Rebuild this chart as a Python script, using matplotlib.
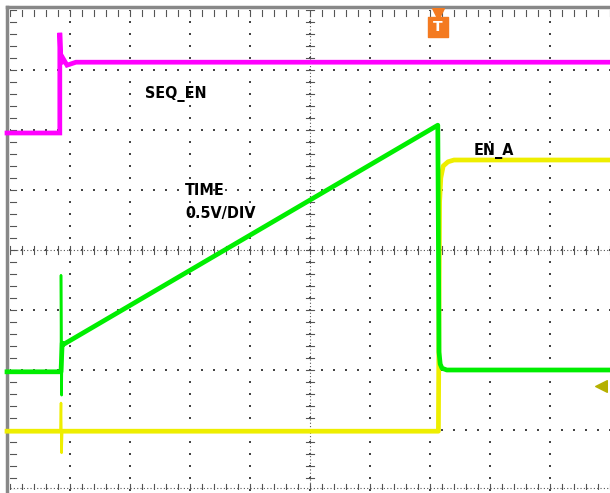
"""Scope capture: SEQ_EN / TIME ramp / EN_A."""
import matplotlib
matplotlib.use('Agg')
import matplotlib.pyplot as plt
import numpy as np

# trace keypoints, x in divisions (0..10), y in divisions (-4..4)
seq_en_t = [-0.05, 0.83, 0.83, 0.85, 0.88, 0.95, 1.1, 10.0]
seq_en_v = [1.95, 1.95, 3.62, 3.10, 3.20, 3.08, 3.13, 3.13]

time_t = [-0.05, 0.85, 0.87, 0.88, 7.13, 7.15, 7.17, 7.2, 7.28, 7.4, 10.0]
time_v = [-2.03, -2.03, -1.55, -1.58, 2.08, -1.7, -1.9, -1.97, -2.0, -2.0, -2.0]
time_spike_t = [0.85, 0.85, 0.86, 0.87]
time_spike_v = [-2.03, -0.42, -2.42, -1.55]

en_a_t = [-0.05, 7.14, 7.16, 7.18, 7.22, 7.3, 7.4, 7.55, 10.0]
en_a_v = [-3.02, -3.02, 0.8, 1.2, 1.4, 1.47, 1.5, 1.5, 1.5]
en_a_spike_t = [0.84, 0.85, 0.86, 0.87]
en_a_spike_v = [-3.02, -2.55, -3.38, -3.02]

labels = ['SEQ_EN', 'TIME\n0.5V/DIV', 'EN_A']
label_pos = [(2.25, 2.6), (2.92, 0.8), (7.73, 1.65)]

trig_x = 7.13
ref_y = -2.27

fig = plt.figure(figsize=(6.1, 4.93), dpi=100)
ax = fig.add_axes([10/610, 3/493, 600/610, 480/493])
ax.set_xlim(0, 10)
ax.set_ylim(-4, 4)
ax.axis('off')

# dotted graticule
minor = np.arange(0, 10.01, 0.2)
minor_y = np.arange(-4, 4.01, 0.2)
for gx in range(1, 10):
    ax.scatter(np.full(minor_y.size, gx), minor_y, s=1.2, c='#444444', marker='s', lw=0, zorder=1)
for gy in range(-3, 4):
    ax.scatter(minor, np.full(minor.size, gy), s=1.2, c='#444444', marker='s', lw=0, zorder=1)
# center axes with ticks
ax.plot([5, 5], [-4, 4], ls=(0, (1, 2)), color='#555555', lw=0.8, zorder=1)
ax.plot([0, 10], [0, 0], ls=(0, (1, 2)), color='#555555', lw=0.8, zorder=1)
for v in minor_y:
    ax.plot([4.93, 5.07], [v, v], color='#555555', lw=0.8, zorder=1)
for v in minor:
    ax.plot([v, v], [-0.07, 0.07], color='#555555', lw=0.8, zorder=1)
# edge ticks
for v in minor:
    ax.plot([v, v], [3.9, 4.0], color='#555555', lw=0.8, zorder=1)
    ax.plot([v, v], [-4.0, -3.9], color='#555555', lw=0.8, zorder=1)
for v in minor_y:
    ax.plot([0, 0.1], [v, v], color='#555555', lw=0.8, zorder=1)
ax.plot([0, 10], [-3.97, -3.97], ls=(0, (1, 2)), color='#555555', lw=0.8, zorder=1)

# frame (top and left)
ax.plot([-0.05, 10], [4.05, 4.05], color='#888888', lw=2.5, clip_on=False, zorder=2)
ax.plot([-0.05, -0.05], [-4.1, 4.05], color='#888888', lw=2.5, clip_on=False, zorder=2)

# traces
ax.plot(seq_en_t, seq_en_v, color='#ff00ff', lw=3.4, solid_joinstyle='miter', zorder=3, clip_on=False)
ax.plot(en_a_t, en_a_v, color='#eeee00', lw=3.4, zorder=3, clip_on=False)
ax.plot(en_a_spike_t, en_a_spike_v, color='#eeee00', lw=1.8, zorder=3)
ax.plot(en_a_t[1:3], en_a_v[1:3], color='#eeee00', lw=1.2, zorder=4)
ax.plot(time_t, time_v, color='#00ee00', lw=3.4, zorder=4, clip_on=False)
ax.plot(time_spike_t, time_spike_v, color='#00ee00', lw=1.8, zorder=4)
ax.plot(time_t[4:6], time_v[4:6], color='#00ee00', lw=1.2, zorder=5)

for txt, (lx, ly) in zip(labels, label_pos):
    ax.text(lx, ly, txt, fontsize=11.5, fontweight='bold', color='black',
            family='DejaVu Sans', fontstretch='condensed', va='center', ha='left',
            linespacing=1.6, zorder=6)

# trigger marker
ax.scatter([trig_x], [3.93], marker='v', s=70, color='#f47a20', zorder=6, clip_on=False)
ax.scatter([trig_x], [3.72], marker='s', s=210, color='#f47a20', zorder=6, clip_on=False)
ax.text(trig_x, 3.72, 'T', color='white', fontsize=10, fontweight='bold', ha='center', va='center', zorder=7)

# reference level arrow (right)
ax.scatter([9.85], [ref_y], marker='<', s=70, color='#b5b000', zorder=6, clip_on=False)

fig.savefig('out.png', dpi=100, facecolor='white')
plt.close()
